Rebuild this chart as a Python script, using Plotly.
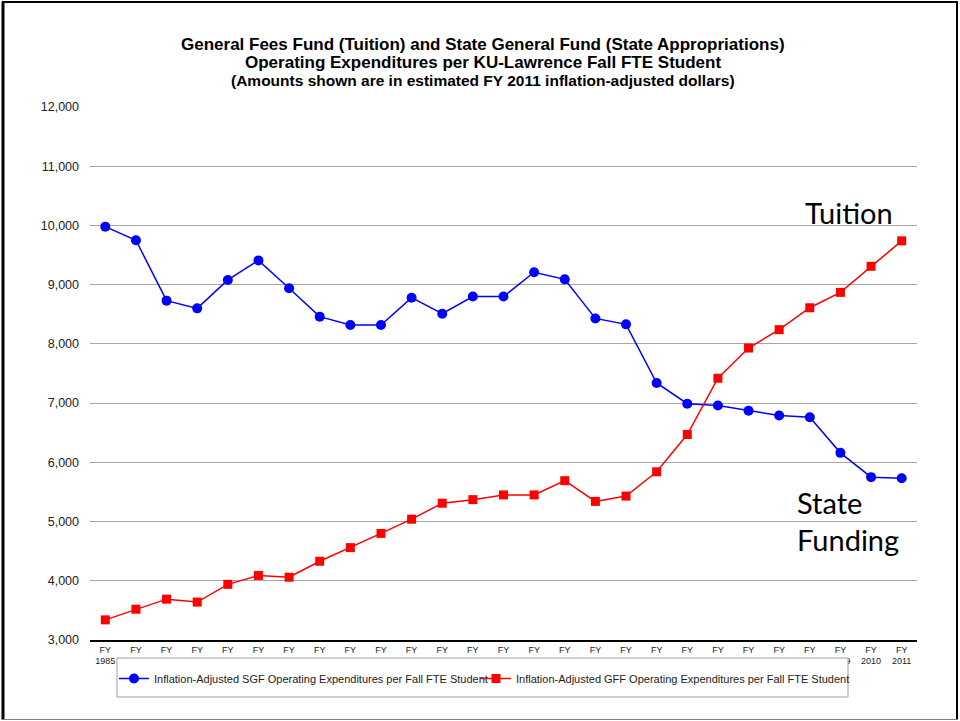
import plotly.graph_objects as go

years = list(range(1985, 2012))
tick_labels = [f"FY<br>{y}" for y in years]

sgf_values = [9980, 9750, 8730, 8600, 9080, 9410, 8940, 8460, 8320, 8320,
              8780, 8510, 8800, 8800, 9210, 9090, 8430, 8330, 7340, 6990,
              6960, 6870, 6790, 6760, 6160, 5750, 5730]
gff_values = [3340, 3520, 3690, 3640, 3940, 4090, 4060, 4330, 4560, 4800,
              5040, 5310, 5370, 5450, 5450, 5690, 5340, 5430, 5840, 6470,
              7420, 7930, 8240, 8610, 8870, 9310, 9740]

sgf_name = "Inflation-Adjusted SGF Operating Expenditures per Fall FTE Student"
gff_name = "Inflation-Adjusted GFF Operating Expenditures per Fall FTE Student"

title_lines = [
    "General Fees Fund (Tuition) and State General Fund (State Appropriations)",
    "Operating Expenditures per KU-Lawrence Fall FTE Student",
    "(Amounts shown are in estimated FY 2011 inflation-adjusted dollars)",
]

W, H = 960, 721
L, R, T, B = 90, 43, 107, 81
pw, ph = W - L - R, H - T - B

def px_x(x):
    return (x - L) / pw

def px_y(y):
    return (H - B - y) / ph

ARIAL = "Arial, Liberation Sans, sans-serif"
CAL = "Lato, Open Sans, sans-serif"

fig = go.Figure()
fig.add_trace(go.Scatter(
    x=tick_labels, y=sgf_values, name=sgf_name, mode="lines+markers",
    line=dict(color="#0000FF", width=1.5),
    marker=dict(symbol="circle", size=10, color="#0000FF"),
    legend="legend",
))
fig.add_trace(go.Scatter(
    x=tick_labels, y=gff_values, name=gff_name, mode="lines+markers",
    line=dict(color="#FF0000", width=1.5),
    marker=dict(symbol="square", size=9, color="#FF0000"),
    legend="legend2",
))

shapes = [
    dict(type="rect", xref="paper", yref="paper", layer="above",
         x0=px_x(117), x1=px_x(848), y0=px_y(697), y1=px_y(658),
         fillcolor="white", line=dict(color="#A0A0A0", width=1)),
    dict(type="line", xref="paper", yref="paper", layer="above",
         x0=px_x(3), x1=px_x(3), y0=px_y(720), y1=px_y(2),
         line=dict(color="black", width=3)),
    dict(type="line", xref="paper", yref="paper", layer="above",
         x0=px_x(2), x1=px_x(958), y0=px_y(2), y1=px_y(2),
         line=dict(color="black", width=2)),
    dict(type="line", xref="paper", yref="paper", layer="above",
         x0=px_x(957), x1=px_x(957), y0=px_y(720), y1=px_y(2),
         line=dict(color="black", width=2)),
    dict(type="line", xref="paper", yref="paper", layer="above",
         x0=px_x(2), x1=px_x(958), y0=px_y(719.5), y1=px_y(719.5),
         line=dict(color="#808080", width=1)),
]

annotations = [
    dict(text=f"<b>{title_lines[0]}</b>", xref="paper", yref="paper",
         x=px_x(483), y=px_y(44), xanchor="center", yanchor="middle", showarrow=False,
         font=dict(family=ARIAL, size=17, color="black")),
    dict(text=f"<b>{title_lines[1]}</b>", xref="paper", yref="paper",
         x=px_x(483), y=px_y(63), xanchor="center", yanchor="middle", showarrow=False,
         font=dict(family=ARIAL, size=17, color="black")),
    dict(text=f"<b>{title_lines[2]}</b>", xref="paper", yref="paper",
         x=px_x(483), y=px_y(81), xanchor="center", yanchor="middle", showarrow=False,
         font=dict(family=ARIAL, size=15.5, color="black")),
    dict(text="Tuition", xref="paper", yref="paper", x=px_x(803), y=px_y(212),
         xanchor="left", yanchor="middle", showarrow=False,
         font=dict(family=CAL, size=29, color="black")),
    dict(text="State", xref="paper", yref="paper", x=px_x(795), y=px_y(502),
         xanchor="left", yanchor="middle", showarrow=False,
         font=dict(family=CAL, size=29, color="black")),
    dict(text="Funding", xref="paper", yref="paper", x=px_x(795), y=px_y(539),
         xanchor="left", yanchor="middle", showarrow=False,
         font=dict(family=CAL, size=29, color="black")),
]

legend_common = dict(
    orientation="h", xanchor="left", yanchor="top",
    bgcolor="rgba(0,0,0,0)", borderwidth=0,
    font=dict(family=ARIAL, size=11, color="#222222"),
    itemclick=False, itemdoubleclick=False,
)

fig.update_layout(
    width=W, height=H,
    margin=dict(l=L, r=R, t=T, b=B, autoexpand=False),
    paper_bgcolor="white", plot_bgcolor="white",
    font=dict(family=ARIAL, color="#222222"),
    xaxis=dict(
        type="category", range=[-0.5, len(years) - 0.5],
        showgrid=False, showline=True, linecolor="black", linewidth=1.5,
        ticks="", tickfont=dict(family=ARIAL, size=9, color="#222222"),
        ticklabelstandoff=0, zeroline=False, fixedrange=True,
    ),
    yaxis=dict(
        range=[3000, 12000], dtick=1000, tickformat=",d",
        showgrid=True, gridcolor="#A6A6A6", gridwidth=1,
        ticks="", tickfont=dict(family=ARIAL, size=12.5, color="#222222"),
        ticklabelstandoff=10, zeroline=False, showline=False,
    ),
    legend=dict(x=px_x(114), y=px_y(664), **legend_common),
    legend2=dict(x=px_x(476), y=px_y(664), **legend_common),
    shapes=shapes,
    annotations=annotations,
    showlegend=True,
)

fig.write_html("out.html", post_script="document.body.style.margin='0';",
               config={"displayModeBar": False})
